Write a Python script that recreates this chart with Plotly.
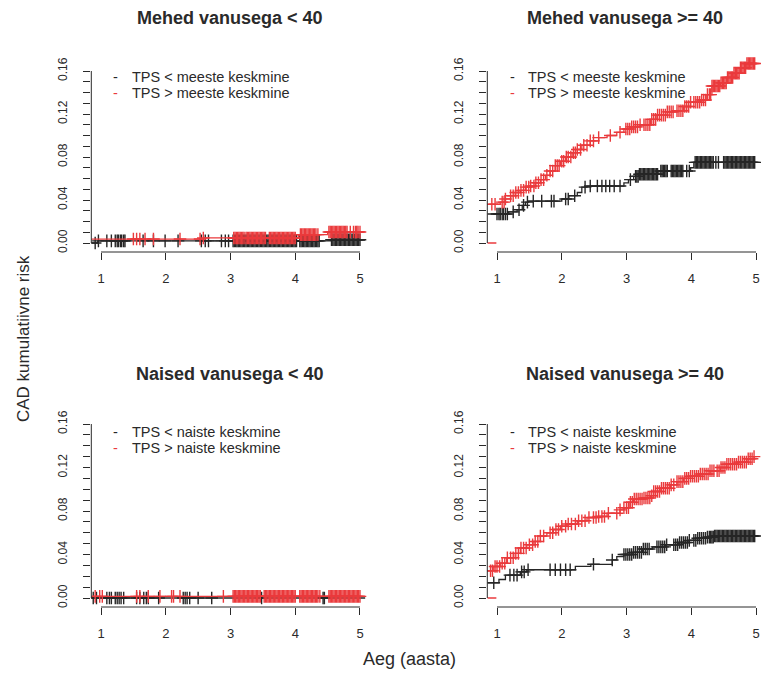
import numpy as np
import plotly.graph_objects as go

# ---------------- data ----------------
panel_titles = ["Mehed vanusega < 40", "Mehed vanusega >= 40",
                "Naised vanusega < 40", "Naised vanusega >= 40"]
legend_men = ["TPS < meeste keskmine", "TPS > meeste keskmine"]
legend_women = ["TPS < naiste keskmine", "TPS > naiste keskmine"]
x_title = "Aeg (aasta)"
y_title = "CAD kumulatiivne risk"

x_ticks = [1, 2, 3, 4, 5]
y_ticks = [0.00, 0.01, 0.02, 0.03, 0.04, 0.05, 0.06, 0.07, 0.08,
           0.09, 0.10, 0.11, 0.12, 0.13, 0.14, 0.15, 0.16]
y_ticktext = ["0.00", "", "", "", "0.04", "", "", "", "0.08",
              "", "", "", "0.12", "", "", "", "0.16"]

# --- Men < 40 ---
tl_black_t = [0.85, 0.95, 4.55]
tl_black_v = [0.0, 0.002, 0.003]
tl_black_end = 5.08
tl_black_cens = [0.91, 0.96, 1.09, 1.16, 1.22, 1.25, 1.27, 1.30, 1.32, 1.35, 1.37,
                 1.65, 1.81, 1.99, 2.19, 2.55, 2.61, 2.66, 2.86, 2.92, 2.97,
                 3.04, 3.06, 3.08, 3.10, 3.12, 3.14, 3.16, 3.18, 3.20, 3.22, 3.24, 3.26,
                 3.28, 3.30, 3.32, 3.34, 3.36, 3.38, 3.40, 3.42, 3.44, 3.46, 3.48, 3.50,
                 3.52, 3.54, 3.56, 3.58, 3.60, 3.62, 3.64, 3.66, 3.68, 3.70, 3.72, 3.74,
                 3.76, 3.78, 3.80, 3.82, 3.84, 3.86, 3.88, 3.90, 3.92, 3.94, 3.96, 3.98,
                 4.00, 4.02, 4.07, 4.09, 4.11, 4.13, 4.15, 4.17, 4.19, 4.21, 4.23, 4.25,
                 4.27, 4.29, 4.31, 4.33, 4.35, 4.37, 4.56, 4.58, 4.60, 4.62, 4.64, 4.66,
                 4.68, 4.70, 4.72, 4.74, 4.76, 4.78, 4.80, 4.82, 4.84, 4.86, 4.88, 4.90,
                 4.92, 4.94, 4.96, 4.98, 5.00]
tl_red_t = [0.85, 2.58, 4.05, 4.50]
tl_red_v = [0.0037, 0.0047, 0.0078, 0.0103]
tl_red_end = 5.08
tl_red_cens = [1.50, 1.55, 1.60, 1.68, 1.81, 2.22, 2.53, 2.58,
               3.05, 3.07, 3.09, 3.11, 3.13, 3.15, 3.17, 3.19, 3.21, 3.24, 3.26, 3.28,
               3.30, 3.32, 3.34, 3.36, 3.38, 3.40, 3.42, 3.44, 3.46, 3.48, 3.50, 3.52,
               3.54, 3.60, 3.62, 3.64, 3.66, 3.68, 3.70, 3.72, 3.74, 3.76, 3.78, 3.80,
               3.82, 3.84, 3.86, 3.88, 3.90, 3.92, 3.94, 3.96, 3.98, 4.00, 4.08, 4.10,
               4.12, 4.14, 4.16, 4.18, 4.20, 4.22, 4.24, 4.26, 4.28, 4.30, 4.32, 4.35,
               4.52, 4.54, 4.56, 4.58, 4.60, 4.62, 4.64, 4.66, 4.68, 4.70, 4.72, 4.74,
               4.76, 4.78, 4.80, 4.85, 4.90, 4.93, 4.95, 4.97, 5.00]

# --- Men >= 40 ---
tr_black_t = [0.85, 1.18, 1.31, 1.39, 1.44, 1.49, 2.00, 2.11, 2.24, 2.31, 2.39,
              2.96, 3.03, 3.11, 3.19, 3.50, 3.99, 4.04]
tr_black_v = [0.027, 0.029, 0.031, 0.035, 0.038, 0.039, 0.041, 0.044, 0.047, 0.052,
              0.053, 0.056, 0.059, 0.062, 0.064, 0.067, 0.070, 0.075]
tr_black_end = 5.03
tr_black_cens = [1.00, 1.03, 1.05, 1.08, 1.10, 1.13, 1.16, 1.25, 1.34, 1.41, 1.47,
                 1.56, 1.69, 1.84, 1.88, 2.06, 2.10, 2.20, 2.36, 2.44, 2.55, 2.62,
                 2.68, 2.74, 2.81, 2.90, 3.06, 3.14, 3.16, 3.18, 3.20, 3.22, 3.24, 3.26,
                 3.28, 3.30, 3.32, 3.34, 3.36, 3.38, 3.40, 3.42, 3.44, 3.46, 3.48, 3.53,
                 3.55, 3.57, 3.59, 3.61, 3.63, 3.69, 3.71, 3.73, 3.75, 3.77, 3.79, 3.81,
                 3.83, 3.85, 3.87, 3.93, 3.97, 4.06, 4.08, 4.10, 4.12, 4.14, 4.16, 4.18,
                 4.20, 4.22, 4.24, 4.26, 4.28, 4.30, 4.32, 4.34, 4.38, 4.42, 4.50, 4.52,
                 4.54, 4.56, 4.58, 4.60, 4.62, 4.64, 4.66, 4.68, 4.70, 4.72, 4.74, 4.76,
                 4.78, 4.80, 4.82, 4.84, 4.86, 4.88, 4.90, 4.92, 4.94, 4.96, 4.98]
tr_red_t = [0.85, 1.05, 1.13, 1.21, 1.28, 1.36, 1.44, 1.51, 1.59, 1.67, 1.75, 1.82,
            1.90, 1.98, 2.06, 2.16, 2.24, 2.31, 2.44, 2.57, 2.70, 2.85, 2.96, 3.06,
            3.21, 3.37, 3.47, 3.63, 3.78, 3.88, 3.99, 4.14, 4.24, 4.32, 4.45, 4.55,
            4.66, 4.76, 4.86]
tr_red_v = [0.036, 0.038, 0.041, 0.044, 0.047, 0.049, 0.052, 0.053, 0.056, 0.059,
            0.063, 0.067, 0.072, 0.076, 0.080, 0.084, 0.087, 0.091, 0.095, 0.098,
            0.100, 0.103, 0.106, 0.108, 0.110, 0.115, 0.119, 0.122, 0.123, 0.127,
            0.131, 0.133, 0.138, 0.146, 0.149, 0.154, 0.158, 0.163, 0.167]
tr_red_end = 5.01
tr_red_cens = [0.92, 0.97, 1.08, 1.11, 1.13, 1.21, 1.25, 1.29, 1.33, 1.37, 1.41, 1.45,
               1.49, 1.52, 1.57, 1.60, 1.64, 1.68, 1.72, 1.77, 1.82, 1.86, 1.90, 1.93,
               1.96, 2.00, 2.03, 2.07, 2.10, 2.14, 2.18, 2.21, 2.24, 2.29, 2.34, 2.39,
               2.44, 2.49, 2.57, 2.75, 2.90, 2.99, 3.02, 3.05, 3.08, 3.11, 3.14, 3.17,
               3.21, 3.27, 3.30, 3.33, 3.36, 3.39, 3.42, 3.45, 3.48, 3.51, 3.54, 3.57,
               3.60, 3.63, 3.66, 3.69, 3.72, 3.78, 3.81, 3.84, 3.87, 3.90, 3.93, 3.96,
               3.99, 4.04, 4.07, 4.10, 4.13, 4.16, 4.19, 4.22, 4.25, 4.28, 4.30, 4.32,
               4.34, 4.36, 4.38, 4.40, 4.42, 4.44, 4.46, 4.48, 4.50, 4.52, 4.54, 4.56,
               4.58, 4.60, 4.62, 4.64, 4.66, 4.68, 4.70, 4.72, 4.74, 4.76, 4.78, 4.80,
               4.82, 4.84, 4.86, 4.88, 4.90, 4.92, 4.94, 4.96, 4.98]
tr_red_zero_t = [0.85, 0.99]

# --- Women < 40 ---
bl_black_t = [0.85]
bl_black_v = [0.0]
bl_black_end = 5.08
bl_black_cens = [0.88, 0.93, 1.09, 1.13, 1.16, 1.22, 1.25, 1.28, 1.31, 1.35, 1.55,
                 1.60, 1.66, 1.70, 1.73, 1.89, 2.27, 2.30, 2.33, 2.37, 2.50, 2.71,
                 3.48, 4.43, 4.45]
bl_red_t = [0.85]
bl_red_v = [0.0015]
bl_red_end = 5.08
bl_red_cens = [0.91, 0.98, 1.02, 1.55, 1.60, 1.73, 1.91, 2.09, 2.12, 2.22, 2.89,
               3.04, 3.06, 3.08, 3.10, 3.12, 3.14, 3.16, 3.18, 3.20, 3.22, 3.24, 3.26,
               3.28, 3.30, 3.32, 3.34, 3.36, 3.38, 3.40, 3.42, 3.44, 3.46, 3.52, 3.54,
               3.56, 3.58, 3.60, 3.62, 3.64, 3.66, 3.68, 3.70, 3.72, 3.74, 3.76, 3.78,
               3.80, 3.82, 3.84, 3.86, 3.88, 3.90, 3.92, 3.94, 3.96, 3.98, 4.00, 4.07,
               4.09, 4.11, 4.13, 4.15, 4.17, 4.19, 4.21, 4.23, 4.25, 4.27, 4.29, 4.31,
               4.33, 4.35, 4.38, 4.52, 4.54, 4.56, 4.58, 4.60, 4.62, 4.64, 4.66, 4.68,
               4.70, 4.72, 4.74, 4.76, 4.78, 4.80, 4.82, 4.84, 4.86, 4.88, 4.90, 4.92,
               4.94, 4.96, 4.98, 5.00]

# --- Women >= 40 ---
br_black_t = [0.85, 1.03, 1.13, 1.36, 1.46, 2.21, 2.45, 2.78, 2.85, 2.96, 3.10, 3.25,
              3.40, 3.60, 3.80, 3.95, 4.10, 4.25, 4.35]
br_black_v = [0.014, 0.017, 0.021, 0.024, 0.026, 0.029, 0.031, 0.035, 0.038, 0.040,
              0.042, 0.045, 0.047, 0.049, 0.051, 0.053, 0.055, 0.056, 0.057]
br_black_end = 5.03
br_black_cens = [0.95, 1.20, 1.26, 1.31, 1.38, 1.42, 1.48, 1.82, 1.90, 1.98, 2.06,
                 2.13, 2.49, 2.78, 2.96, 2.99, 3.02, 3.05, 3.08, 3.11, 3.14, 3.17, 3.20,
                 3.23, 3.26, 3.29, 3.32, 3.35, 3.47, 3.50, 3.53, 3.56, 3.59, 3.62, 3.73,
                 3.76, 3.79, 3.82, 3.85, 3.88, 3.91, 3.94, 3.97, 4.04, 4.07, 4.10, 4.13,
                 4.16, 4.19, 4.22, 4.25, 4.28, 4.30, 4.32, 4.34, 4.36, 4.38, 4.40, 4.42,
                 4.44, 4.46, 4.48, 4.50, 4.52, 4.54, 4.56, 4.58, 4.60, 4.62, 4.64, 4.66,
                 4.68, 4.70, 4.72, 4.74, 4.76, 4.78, 4.80, 4.82, 4.84, 4.86, 4.88, 4.90,
                 4.92, 4.94, 4.96, 4.98]
br_red_t = [0.85, 0.95, 1.05, 1.15, 1.26, 1.36, 1.46, 1.57, 1.67, 1.77, 1.87, 1.98,
            2.08, 2.24, 2.39, 2.54, 2.70, 2.90, 2.96, 3.04, 3.11, 3.26, 3.37, 3.42,
            3.52, 3.68, 3.78, 3.88, 3.99, 4.14, 4.29, 4.45, 4.55, 4.71, 4.86, 4.97]
br_red_v = [0.025, 0.029, 0.032, 0.037, 0.041, 0.046, 0.049, 0.052, 0.057, 0.060,
            0.063, 0.066, 0.068, 0.071, 0.074, 0.075, 0.078, 0.081, 0.083, 0.088,
            0.091, 0.092, 0.094, 0.098, 0.101, 0.104, 0.107, 0.110, 0.112, 0.114,
            0.117, 0.120, 0.123, 0.125, 0.128, 0.130]
br_red_end = 5.01
br_red_cens = [0.90, 0.93, 0.97, 1.00, 1.04, 1.08, 1.12, 1.16, 1.21, 1.25, 1.29, 1.33,
               1.37, 1.41, 1.45, 1.50, 1.55, 1.59, 1.63, 1.67, 1.72, 1.82, 1.86, 1.91,
               1.95, 2.00, 2.06, 2.10, 2.15, 2.21, 2.26, 2.31, 2.36, 2.42, 2.49, 2.53,
               2.57, 2.62, 2.66, 2.72, 2.85, 2.90, 2.96, 3.00, 3.03, 3.06, 3.09, 3.12,
               3.15, 3.18, 3.21, 3.24, 3.27, 3.30, 3.33, 3.36, 3.39, 3.42, 3.45, 3.48,
               3.51, 3.54, 3.57, 3.60, 3.63, 3.66, 3.69, 3.73, 3.78, 3.81, 3.84, 3.87,
               3.90, 3.93, 3.96, 3.99, 4.02, 4.05, 4.08, 4.11, 4.14, 4.17, 4.20, 4.23,
               4.26, 4.29, 4.32, 4.35, 4.40, 4.43, 4.46, 4.49, 4.52, 4.55, 4.58, 4.61,
               4.64, 4.67, 4.70, 4.73, 4.76, 4.79, 4.82, 4.85, 4.88, 4.91, 4.94, 4.97]
br_red_zero_t = [0.85, 0.99]

# ---------------- styling ----------------
BLACK = "#262626"
RED = "#EA3A3C"
TXT = "#2a2a2a"
FONT = "Liberation Sans, Arial, sans-serif"
W, H = 764, 679

fig = go.Figure()


def step_value(times, values, t):
    idx = np.searchsorted(np.array(times), np.array(t), side="right") - 1
    idx = np.clip(idx, 0, len(values) - 1)
    return np.array(values)[idx]


def add_curve(times, values, end, cens, color, xa, ya):
    fig.add_trace(go.Scatter(x=list(times) + [end], y=list(values) + [values[-1]],
                             mode="lines", line=dict(color=color, width=1.3, shape="hv"),
                             xaxis=xa, yaxis=ya, hoverinfo="skip"))
    fig.add_trace(go.Scatter(x=cens, y=step_value(times, values, cens), mode="markers",
                             marker=dict(symbol="cross-thin", size=9,
                                         line=dict(color=color, width=1.4)),
                             xaxis=xa, yaxis=ya, hoverinfo="skip"))


panels = [
    ("x", "y", tl_black_t, tl_black_v, tl_black_end, tl_black_cens,
     tl_red_t, tl_red_v, tl_red_end, tl_red_cens, None),
    ("x2", "y2", tr_black_t, tr_black_v, tr_black_end, tr_black_cens,
     tr_red_t, tr_red_v, tr_red_end, tr_red_cens, tr_red_zero_t),
    ("x3", "y3", bl_black_t, bl_black_v, bl_black_end, bl_black_cens,
     bl_red_t, bl_red_v, bl_red_end, bl_red_cens, None),
    ("x4", "y4", br_black_t, br_black_v, br_black_end, br_black_cens,
     br_red_t, br_red_v, br_red_end, br_red_cens, br_red_zero_t),
]

for (xa, ya, bt, bv, be, bc, rt, rv, re, rc, rz) in panels:
    add_curve(bt, bv, be, bc, BLACK, xa, ya)
    add_curve(rt, rv, re, rc, RED, xa, ya)
    if rz is not None:
        fig.add_trace(go.Scatter(x=rz, y=[0, 0], mode="lines",
                                 line=dict(color=RED, width=1.5),
                                 xaxis=xa, yaxis=ya, hoverinfo="skip"))

# pixel geometry of panels
left_px = (91.3, 369.7)
right_px = (487.3, 764.0)
top_px = (55.0, 252.0)
bot_px = (410.0, 607.0)
x_range_left = [0.85, 5.15]
x_range_right = [0.85, 5.1236]
y_range_top = [-0.00837, 0.1749]
y_range_bot = [-0.00828, 0.1729]


def xdom(p):
    return [p[0] / W, p[1] / W]


def ydom(p):
    return [1 - p[1] / H, 1 - p[0] / H]


xcommon = dict(showgrid=False, zeroline=False, showline=False, ticks="outside",
               ticklen=7, tickwidth=1, tickcolor=TXT, tickvals=x_ticks,
               tickfont=dict(size=13, color=TXT, family=FONT), ticklabelstandoff=7,
               fixedrange=True)
ycommon = dict(showgrid=False, zeroline=False, showline=False, ticks="outside",
               ticklen=7, tickwidth=1, tickcolor=TXT, tickvals=y_ticks,
               ticktext=y_ticktext, tickangle=-90,
               tickfont=dict(size=12, color=TXT, family=FONT), ticklabelstandoff=12,
               fixedrange=True)

layout_axes = {}
specs = [("xaxis", "yaxis", "x", "y", left_px, top_px, x_range_left, y_range_top),
         ("xaxis2", "yaxis2", "x2", "y2", right_px, top_px, x_range_right, y_range_top),
         ("xaxis3", "yaxis3", "x3", "y3", left_px, bot_px, x_range_left, y_range_bot),
         ("xaxis4", "yaxis4", "x4", "y4", right_px, bot_px, x_range_right, y_range_bot)]
shapes = []
for (xk, yk, xa, ya, xp, yp, xr, yr) in specs:
    layout_axes[xk] = dict(xcommon, domain=xdom(xp), anchor=ya, range=xr)
    layout_axes[yk] = dict(ycommon, domain=ydom(yp), anchor=xa, range=yr)
    shapes.append(dict(type="line", xref=xa, yref=ya + " domain", x0=x_ticks[0],
                       x1=x_ticks[-1], y0=0, y1=0, line=dict(color=TXT, width=1)))
    shapes.append(dict(type="line", xref=xa + " domain", yref=ya, x0=0, x1=0,
                       y0=y_ticks[0], y1=y_ticks[-1], line=dict(color=TXT, width=1)))

annotations = []
title_pos = [(230, 18), (625, 18), (230, 374), (625, 374)]
for txt, (px, py) in zip(panel_titles, title_pos):
    annotations.append(dict(text="<b>" + txt + "</b>", x=px / W, y=1 - py / H,
                            xref="paper", yref="paper", showarrow=False,
                            xanchor="center", yanchor="middle",
                            font=dict(size=18, color=TXT, family=FONT)))

legend_pos = [(115, 130, 76.7, 93.3, legend_men), (512, 526, 76.7, 93.3, legend_men),
              (115, 130, 431.7, 448.3, legend_women), (512, 526, 431.7, 448.3, legend_women)]
for (dx, tx, y1, y2, labels) in legend_pos:
    for yy, lab, col in [(y1, labels[0], BLACK), (y2, labels[1], RED)]:
        annotations.append(dict(text="-", x=dx / W, y=1 - yy / H, xref="paper",
                                yref="paper", showarrow=False, xanchor="center",
                                yanchor="middle",
                                font=dict(size=14.5, color=col, family=FONT)))
        annotations.append(dict(text=lab, x=tx / W, y=1 - yy / H, xref="paper",
                                yref="paper", showarrow=False, xanchor="left",
                                yanchor="middle",
                                font=dict(size=14.5, color=TXT, family=FONT)))

annotations.append(dict(text=x_title, x=409 / W, y=1 - 659 / H, xref="paper",
                        yref="paper", showarrow=False, xanchor="center",
                        yanchor="middle", font=dict(size=18, color=TXT, family=FONT)))
annotations.append(dict(text=y_title, x=23 / W, y=1 - 339 / H, xref="paper",
                        yref="paper", showarrow=False, xanchor="center",
                        yanchor="middle", textangle=-90,
                        font=dict(size=17, color=TXT, family=FONT)))

fig.update_layout(width=W, height=H, margin=dict(l=0, r=0, t=0, b=0),
                  paper_bgcolor="white", plot_bgcolor="white", showlegend=False,
                  hovermode=False,
                  font=dict(family=FONT, color=TXT), shapes=shapes,
                  annotations=annotations, **layout_axes)

fig.write_html("out.html",
               config={"displayModeBar": False, "staticPlot": True},
               post_script="document.body.style.margin='0px';"
                           "document.body.style.padding='0px';")
